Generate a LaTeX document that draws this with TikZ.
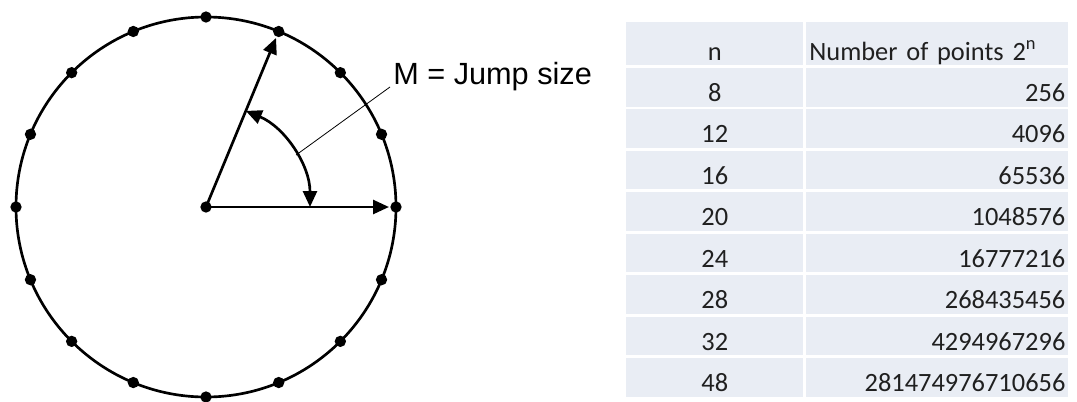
\documentclass[tikz,border=0pt]{standalone}
\usepackage{fontspec}
\usetikzlibrary{arrows.meta}
\setmainfont{Liberation Sans}
\newfontfamily\calibri[WordSpace=0.75]{Carlito}
\definecolor{cellfill}{HTML}{E9EDF4}
\definecolor{celltext}{HTML}{202020}
\tikzset{
  dot/.style={circle, fill=black, inner sep=0pt, minimum size=8.5pt},
  cell/.style={fill=cellfill, text=celltext, inner xsep=2.25pt, inner ysep=0pt,
    text depth=3.75pt, anchor=base west, font=\calibri\fontsize{19.8}{24}\selectfont},
  ncell/.style={cell, text width=128.25pt, align=center},
  vcell/.style={cell, text width=192pt, align=right},
}

\begin{document}
\begin{tikzpicture}[x=0.75pt, y=0.75pt, line width=2pt,
    >={Triangle[length=12pt, width=10.5pt]}]
  \useasboundingbox (-206,-194) rectangle (871,207);

  % Circle with 16 points
  \draw (0,0) circle[radius=190];
  \foreach \k in {0,...,15}{
    \node[dot] (p\k) at ({\k*22.5}:190) {};
  }
  \node[dot] (o) at (0,0) {};

  % Jump from p0 to p3
  \draw[->] (o.center) -- (p0);
  \draw[->] (o.center) -- (p3);
  \draw[<->] (0:104) arc[start angle=0, end angle=67.5, radius=104];

  % Label
  \coordinate (mid) at (30:104);
  \coordinate (lead) at (184,120);
  \node[anchor=base west, inner sep=0pt, font=\fontsize{23}{28}\selectfont] (jump) at (186,123) {M = Jump size};
  \draw[line width=0.6pt] (mid) -- (lead);

  % Table
  \node[ncell, text height=28.5pt] (h1) at (419,147) {n};
  \node[vcell, text height=28.5pt, align=left] (h2) at (599,147) {Number of points 2\textsuperscript{n}};
  \foreach \n/\v [count=\i from 0] in {8/256, 12/4096, 16/65536, 20/1048576,
      24/16777216, 28/268435456, 32/4294967296, 48/281474976710656}{
    \node[ncell, text height=25.1pt] (n\i) at (419,105.5-\i*41.43) {\n};
    \node[vcell, text height=25.1pt] (v\i) at (599,105.5-\i*41.43) {\v};
  }
\end{tikzpicture}
\end{document}
